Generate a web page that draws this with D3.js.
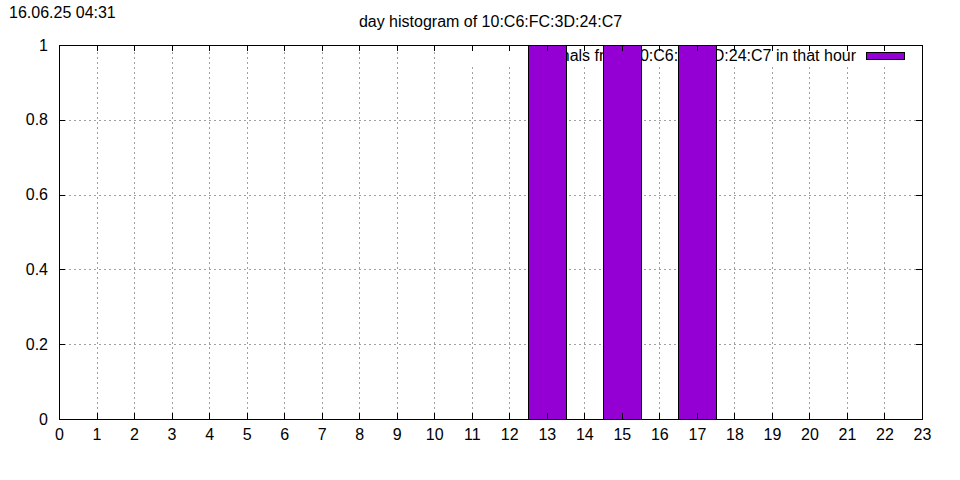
<!DOCTYPE html>
<html><head><meta charset="utf-8">
<script src="https://cdn.jsdelivr.net/npm/d3@7"></script>
<style>body{margin:0;background:#fff}svg{display:block}text{font-family:"Liberation Sans",Arial,sans-serif}</style>
</head><body>
<svg id="c" width="960" height="480"></svg>
<script>
const hours = d3.range(0, 24);
const counts = [0,0,0,0,0,0,0,0,0,0,0,0,0,1,0,1,0,1,0,0,0,0,0,0];
const yTicks = [0, 0.2, 0.4, 0.6, 0.8, 1];
const titleText = "day histogram of 10:C6:FC:3D:24:C7";
const stampText = "16.06.25 04:31";
const legendText = "signals from 10:C6:FC:3D:24:C7 in that hour";

const svg = d3.select("#c");
const L = 59, R = 922, T = 45, B = 419;
const x = d3.scaleLinear().domain([0, 23]).range([L, R]);
const y = d3.scaleLinear().domain([0, 1]).range([B, T]);

svg.append("rect").attr("width", 960).attr("height", 480).attr("fill", "#fff");

// grid
const g = svg.append("g").attr("stroke", "#a0a0a0").attr("stroke-width", 1).attr("stroke-dasharray", "2,3").attr("shape-rendering", "crispEdges");
g.selectAll(".gx").data(hours.slice(1, 23)).enter().append("line")
  .attr("x1", d => Math.round(x(d)) + 0.5).attr("x2", d => Math.round(x(d)) + 0.5)
  .attr("y1", B).attr("y2", T);
g.selectAll(".gy").data(yTicks.slice(1, 5)).enter().append("line")
  .attr("y1", d => Math.round(y(d)) + 0.5).attr("y2", d => Math.round(y(d)) + 0.5)
  .attr("x1", L).attr("x2", R);

// legend box
svg.append("rect").attr("x", 462).attr("y", T + 1).attr("width", R - 462 - 1).attr("height", 19).attr("fill", "#fff");
svg.append("text").attr("x", 856).attr("y", 61).attr("text-anchor", "end").attr("font-size", 16).attr("fill", "#000").text(legendText);
svg.append("rect").attr("x", 866.5).attr("y", 52.5).attr("width", 38).attr("height", 7).attr("fill", "#9400d3").attr("stroke", "#000").attr("stroke-width", 1);

// bars
svg.append("g").selectAll("rect").data(hours.filter(h => counts[h] > 0)).enter().append("rect")
  .attr("x", d => Math.round(x(d - 0.5)) + 0.5)
  .attr("width", d => Math.round(x(d + 0.5)) - Math.round(x(d - 0.5)))
  .attr("y", d => Math.round(y(counts[d])) + 0.5)
  .attr("height", d => Math.round(y(0)) - Math.round(y(counts[d])))
  .attr("fill", "#9400d3").attr("stroke", "#000").attr("stroke-width", 1);

// axes
const ax = svg.append("g").attr("shape-rendering", "crispEdges");
const xb = d3.axisBottom(x).tickValues(hours).tickSize(0).tickPadding(8);
const xg = ax.append("g").attr("transform", `translate(0,${B})`).call(xb);
xg.select(".domain").remove();
xg.selectAll("text").attr("font-size", 16).attr("font-family", '"Liberation Sans",Arial,sans-serif').attr("fill", "#000").attr("dy", "0.72em").attr("y", 9);
const yl = d3.axisLeft(y).tickValues(yTicks).tickFormat(d => d === 0 || d === 1 ? d3.format("d")(d) : d3.format(".1f")(d)).tickSize(0).tickPadding(12);
const yg = ax.append("g").attr("transform", `translate(${L},0)`).call(yl);
yg.select(".domain").remove();
yg.selectAll("text").attr("font-size", 16).attr("font-family", '"Liberation Sans",Arial,sans-serif').attr("fill", "#000").attr("x", -11);

// tick marks (inward, mirrored)
const tk = svg.append("g").attr("stroke", "#000").attr("stroke-width", 1).attr("shape-rendering", "crispEdges");
hours.forEach(h => {
  const xx = Math.round(x(h)) + 0.5;
  tk.append("line").attr("x1", xx).attr("x2", xx).attr("y1", B).attr("y2", B - 6);
  tk.append("line").attr("x1", xx).attr("x2", xx).attr("y1", T).attr("y2", T + 6);
});
yTicks.forEach(v => {
  const yy = Math.round(y(v)) + 0.5;
  tk.append("line").attr("x1", L).attr("x2", L + 6).attr("y1", yy).attr("y2", yy);
  tk.append("line").attr("x1", R).attr("x2", R - 6).attr("y1", yy).attr("y2", yy);
});
svg.append("rect").attr("x", L + 0.5).attr("y", T + 0.5).attr("width", R - L).attr("height", B - T)
  .attr("fill", "none").attr("stroke", "#000").attr("stroke-width", 1).attr("shape-rendering", "crispEdges");

svg.append("text").attr("x", (L + R) / 2).attr("y", 27).attr("text-anchor", "middle").attr("font-size", 16).attr("fill", "#000").text(titleText);
svg.append("text").attr("x", 9).attr("y", 18).attr("font-size", 16).attr("fill", "#000").text(stampText);
</script>
</body></html>
